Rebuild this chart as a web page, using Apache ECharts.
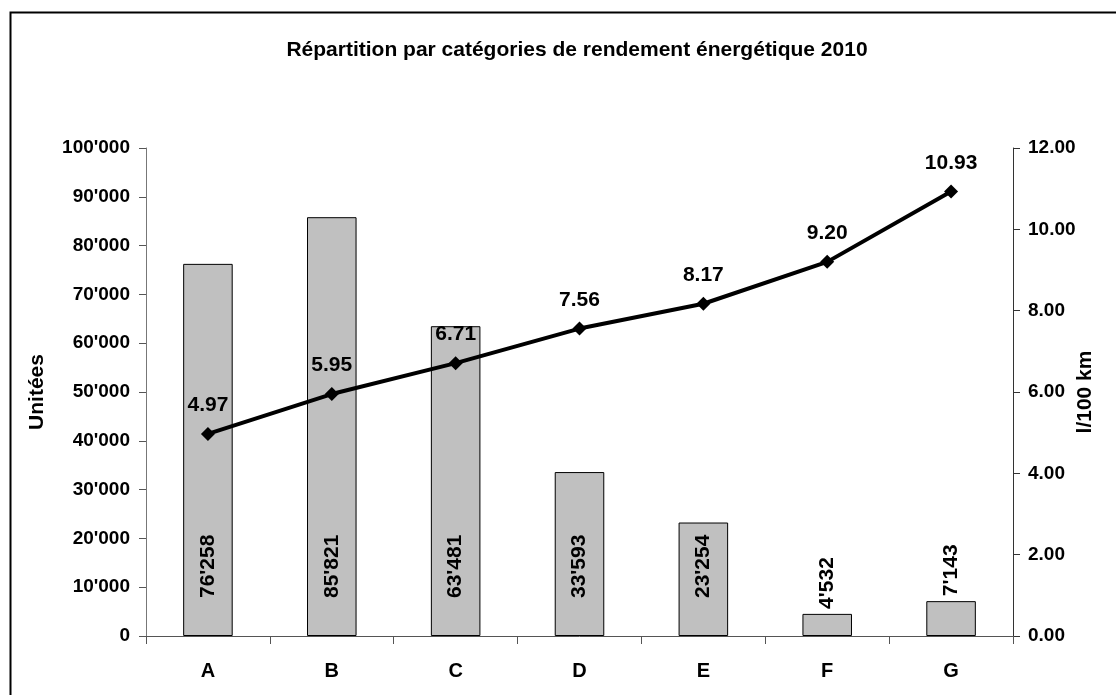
<!DOCTYPE html>
<html>
<head>
<meta charset="utf-8">
<script src="https://cdn.jsdelivr.net/npm/echarts@6/dist/echarts.min.js"></script>
<style>
  html, body { margin: 0; padding: 0; background: #fff; }
  #chart { width: 1116px; height: 695px; }
</style>
</head>
<body>
<div id="chart"></div>
<script>
// données
const categories = ['A', 'B', 'C', 'D', 'E', 'F', 'G'];
const unites = [76258, 85821, 63481, 33593, 23254, 4532, 7143];
const consommation = [4.97, 5.95, 6.71, 7.56, 8.17, 9.20, 10.93];

const FONT = '"Liberation Sans", Arial, sans-serif';

// séparateur de milliers suisse
function fmtMilliers(v) {
    return String(Math.round(v)).replace(/\B(?=(\d{3})+(?!\d))/g, "'");
}

// petites barres : étiquette au-dessus
const barData = unites.map(v => ({
    value: v,
    label: v < 10000
        ? { position: 'top', distance: 5 }
        : { position: 'insideBottom', distance: 38 }
}));

const chart = echarts.init(document.getElementById('chart'));
chart.setOption({
    animation: false,
    textStyle: { fontFamily: FONT },
    title: {
        text: 'Répartition par catégories de rendement énergétique 2010',
        left: 572,
        textAlign: 'center',
        top: 35,
        textStyle: { fontFamily: FONT, fontSize: 21, fontWeight: 'bold', color: '#000' }
    },
    graphic: [{
        type: 'rect',
        shape: { x: 10.5, y: 12.5, width: 1200, height: 800 },
        style: { fill: 'none', stroke: '#000', lineWidth: 2 },
        silent: true
    }],
    grid: { left: 146, right: 103, top: 148, bottom: 59 },
    xAxis: {
        type: 'category',
        data: categories,
        axisLine: { lineStyle: { color: '#555', width: 1 } },
        axisTick: { show: true, length: 8, lineStyle: { color: '#555' } },
        axisLabel: { margin: 25, fontSize: 20, fontWeight: 'bold', color: '#000', fontFamily: FONT }
    },
    yAxis: [{
        type: 'value',
        min: 0, max: 100000, interval: 10000,
        name: 'Unitées',
        nameLocation: 'middle',
        nameRotate: 90,
        nameGap: 98,
        nameMoveOverlap: false,
        nameTextStyle: { fontSize: 21, fontWeight: 'bold', color: '#000', fontFamily: FONT },
        axisLine: { show: true, lineStyle: { color: '#777', width: 1 } },
        axisTick: { show: true, length: 7, lineStyle: { color: '#555' } },
        splitLine: { show: false },
        axisLabel: {
            margin: 16, fontSize: 19, fontWeight: 'bold', color: '#000', fontFamily: FONT,
            formatter: v => fmtMilliers(v)
        }
    }, {
        type: 'value',
        min: 0, max: 12, interval: 2,
        name: 'l/100 km',
        nameLocation: 'middle',
        nameRotate: 90,
        nameGap: 62,
        nameMoveOverlap: false,
        nameTextStyle: { fontSize: 21, fontWeight: 'bold', color: '#000', fontFamily: FONT },
        axisLine: { show: true, lineStyle: { color: '#333', width: 1 } },
        axisTick: { show: true, length: 7, lineStyle: { color: '#333' } },
        splitLine: { show: false },
        axisLabel: {
            margin: 15, fontSize: 19, fontWeight: 'bold', color: '#000', fontFamily: FONT,
            formatter: v => v.toFixed(2)
        }
    }],
    series: [{
        type: 'bar',
        name: 'Unitées',
        data: barData,
        yAxisIndex: 0,
        barWidth: '40%',
        itemStyle: { color: '#c0c0c0', borderColor: '#000', borderWidth: 1 },
        label: {
            show: true,
            rotate: 90,
            align: 'left',
            verticalAlign: 'middle',
            fontSize: 21,
            fontWeight: 'bold',
            color: '#000',
            fontFamily: FONT,
            formatter: p => fmtMilliers(p.value)
        }
    }, {
        type: 'line',
        name: 'l/100 km',
        data: consommation,
        yAxisIndex: 1,
        symbol: 'diamond',
        symbolSize: 14,
        lineStyle: { color: '#000', width: 4 },
        itemStyle: { color: '#000' },
        label: {
            show: true,
            position: 'top',
            distance: 11,
            fontSize: 21,
            fontWeight: 'bold',
            color: '#000',
            fontFamily: FONT,
            formatter: p => p.value.toFixed(2)
        },
        z: 5
    }]
});
</script>
</body>
</html>
